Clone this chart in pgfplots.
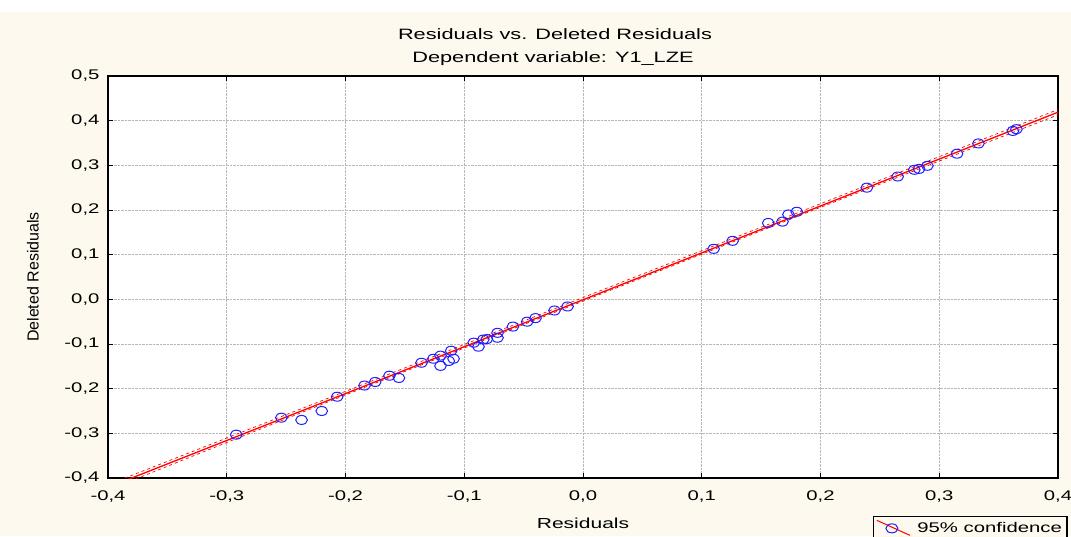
\documentclass[border=0pt]{standalone}
\usepackage{fontspec}
\setmainfont{Liberation Sans}[FakeStretch=1.45]
\newfontfamily\plainsans{Liberation Sans}
\usepackage{pgfplots}
\pgfplotsset{compat=1.18}
\definecolor{bgcream}{HTML}{FDF9EE}
\definecolor{gridgray}{HTML}{B8B8B8}
\definecolor{ptblue}{HTML}{1F1FFF}

\pgfplotstableread{
x y
-0.292 -0.303
-0.254 -0.265
-0.237 -0.270
-0.220 -0.250
-0.207 -0.218
-0.184 -0.193
-0.175 -0.185
-0.163 -0.171
-0.155 -0.176
-0.136 -0.142
-0.126 -0.133
-0.120 -0.126
-0.120 -0.149
-0.111 -0.115
-0.113 -0.138
-0.109 -0.133
-0.092 -0.097
-0.088 -0.106
-0.084 -0.090
-0.081 -0.089
-0.072 -0.075
-0.072 -0.086
-0.059 -0.061
-0.047 -0.050
-0.040 -0.042
-0.024 -0.025
-0.013 -0.016
0.110 0.113
0.126 0.131
0.156 0.171
0.168 0.174
0.173 0.190
0.180 0.196
0.239 0.250
0.265 0.275
0.279 0.290
0.283 0.292
0.290 0.299
0.315 0.326
0.333 0.349
0.362 0.377
0.365 0.381
}\resid

\begin{document}
\begin{tikzpicture}[x=1pt,y=1pt]
% image frame in pixel units, axis box starts at (0,0)
\begin{scope}[shift={(-108,-58)}]
\fill[bgcream] (0,0) rectangle (1071,536);
\fill[white] (0,524) rectangle (1071,536);
\node[font=\fontsize{15}{17}\selectfont] at (555,502) {Residuals vs. Deleted Residuals};
\node[font=\fontsize{15}{17}\selectfont] at (553,477) {Dependent variable: Y1\_LZE};
\end{scope}
\begin{axis}[
    width=950pt, height=402pt, scale only axis,
    xmin=-0.4, xmax=0.4, ymin=-0.4, ymax=0.5,
    xtick={-0.4,-0.3,...,0.41}, ytick={-0.4,-0.3,...,0.51},
    axis background/.style={fill=white},
    axis line style={black, line width=1.3pt},
    tick align=inside, major tick length=5pt,
    tick style={black, line width=0.8pt},
    grid=major,
    major grid style={gridgray, densely dotted, line width=0.8pt},
    /pgf/number format/assume math mode=true,
    /pgf/number format/use comma,
    /pgf/number format/fixed,
    /pgf/number format/fixed zerofill,
    /pgf/number format/precision=1,
    ticklabel style={font=\fontsize{14}{16}\selectfont},
    xticklabel style={anchor=center, yshift=-19pt},
    yticklabel style={anchor=east, xshift=-5pt},
    xlabel={Residuals}, ylabel={Deleted Residuals},
    xlabel style={font=\fontsize{14.5}{16}\selectfont, anchor=center,
        at={(axis description cs:0.5,-0.112)}},
    ylabel style={font=\plainsans\fontsize{16}{18}\selectfont, anchor=center,
        at={(axis description cs:-0.079,0.5)}},
    clip=true,
    legend style={at={(axis description cs:0.805,-0.095)}, anchor=north west,
        draw=black, line width=1.3pt, fill=bgcream,
        font=\fontsize{14}{16}\selectfont, inner xsep=3pt, inner ysep=3pt},
    legend cell align=left,
]
\addplot[red, line width=1.3pt, forget plot] coordinates {(-0.40,-0.421) (0.40,0.419)};
\addplot[red, dashed, line width=0.7pt, forget plot] coordinates {(-0.40,-0.415) (-0.2,-0.206) (0,0.004) (0.2,0.214) (0.40,0.425)};
\addplot[red, dashed, line width=0.7pt, forget plot] coordinates {(-0.40,-0.427) (-0.2,-0.214) (0,-0.004) (0.2,0.206) (0.40,0.413)};
\addplot[only marks, mark=o, mark size=4.5pt, mark options={ptblue, line width=1pt, xscale=1.3},
    legend image code/.code={
        \draw[red, line width=1pt] (13pt,8pt) -- (46pt,-7pt);
        \draw[ptblue, line width=1pt] (28pt,0pt) ellipse (6pt and 4.5pt);
    }] table[x=x, y=y] {\resid};
\addlegendentry{\hspace*{5pt}95\% confidence}
\end{axis}
\pgfresetboundingbox
\useasboundingbox (-108,-58) rectangle (963,478);
\end{tikzpicture}
\end{document}
